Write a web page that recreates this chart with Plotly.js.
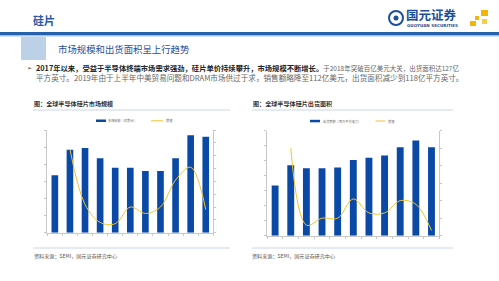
<!DOCTYPE html>
<html>
<head>
<meta charset="utf-8">
<script src="https://cdn.plot.ly/plotly-3.0.1.min.js"></script>
<style>html,body{margin:0;padding:0;background:#fff;}#chart{width:499px;height:281px;}</style>
</head>
<body>
<div id="chart"></div>
<script>
// ---- data ----
var years = ['2009','2010','2011','2012','2013','2014','2015','2016','2017','2018','2019'];
var marketSize = [67, 97, 99, 87, 76, 76, 72, 72, 87, 114, 112];          // 亿美元
var marketGrowth = [null, 45, 2, -12, -13, 0, -5, 0, 21, 31, -2];          // %
var shipArea = [67, 94, 90, 90, 91, 101, 104, 107, 118, 127, 118];
var shipGrowth = [null, 40, -4, 0, 0, 11, 3, 3, 10, 8, -7];                // %

var headerTitle = '硅片';
var slideTitle = '市场规模和出货面积呈上行趋势';
var bulletBold = '2017年以来，受益于半导体终端市场需求强劲，硅片单价持续攀升，市场规模不断增长。';
var bulletRest1 = '于2018年突破百亿美元大关，出货面积达127亿';
var bulletLine2 = '平方英寸。2019年由于上半年中美贸易问题和DRAM市场供过于求，销售额略降至112亿美元，出货面积减少到118亿平方英寸。';
var leftTitle = '图：全球半导体硅片市场规模';
var rightTitle = '图：全球半导体硅片出货面积';
var leftBarName = '市场规模（亿美元）';
var rightBarName = '出货面积（百万平方英寸）';
var lineName = '增速';
var sourceText = '资料来源：SEMI，国元证券研究中心';

// ---- layout helpers ----
var W = 499, H = 281;
function px(x){ return x / W; }
function py(y){ return 1 - y / H; }
var CJK = '"Noto Sans CJK SC", "DejaVu Sans", sans-serif';
var BAR = '#0b49a6', LINE = '#f1c232', AX = '#c8c8c8';

var traces = [
  {type:'bar', x:years, y:marketSize, name:leftBarName, xaxis:'x', yaxis:'y',
   marker:{color:BAR}, showlegend:false},
  {type:'scatter', mode:'lines', x:years, y:marketGrowth, name:lineName, xaxis:'x', yaxis:'y2',
   line:{color:LINE, width:1, shape:'spline', smoothing:1}, showlegend:false},
  {type:'bar', x:years, y:shipArea, name:rightBarName, xaxis:'x2', yaxis:'y3',
   marker:{color:BAR}, showlegend:false},
  {type:'scatter', mode:'lines', x:years, y:shipGrowth, name:lineName, xaxis:'x2', yaxis:'y4',
   line:{color:LINE, width:1, shape:'spline', smoothing:1}, showlegend:false}
];

function xax(d, anchor){
  return {domain:d, anchor:anchor, type:'category', showline:true, linecolor:AX, linewidth:1,
    ticks:'outside', ticklen:2, tickcolor:AX, tickson:'boundaries', showticklabels:false,
    showgrid:false, zeroline:false, fixedrange:true};
}
function yax(o){
  var a = {showline:true, linecolor:AX, linewidth:1, ticks:'outside', ticklen:2, tickcolor:AX,
    showticklabels:false, showgrid:false, zeroline:false, fixedrange:true};
  for (var k in o) a[k] = o[k];
  return a;
}

var shapes = [
  // header band
  {type:'rect', xref:'paper', yref:'paper', x0:0, x1:1, y0:py(35), y1:py(32), fillcolor:'#2561ad', line:{width:0}},
  {type:'rect', xref:'paper', yref:'paper', x0:0, x1:1, y0:py(36.5), y1:py(35), fillcolor:'#9cc0e6', line:{width:0}},
  // title square
  {type:'rect', xref:'paper', yref:'paper', x0:px(21), x1:px(46), y0:py(60), y1:py(37), fillcolor:'#bcd0e8', line:{width:0}},
  // logo circle
  {type:'circle', xref:'paper', yref:'paper', x0:px(389), x1:px(403), y0:py(25), y1:py(11), fillcolor:'rgba(0,0,0,0)', line:{color:'#1d4f9c', width:2}},
  {type:'circle', xref:'paper', yref:'paper', x0:px(393.5), x1:px(398.5), y0:py(20.5), y1:py(15.5), fillcolor:'#1d4f9c', line:{width:0}},
  // logo squares
  {type:'rect', xref:'paper', yref:'paper', x0:px(481), x1:px(488), y0:py(16), y1:py(10), fillcolor:'#f2b705', line:{width:0}},
  {type:'rect', xref:'paper', yref:'paper', x0:px(475), x1:px(479), y0:py(20), y1:py(16), fillcolor:'#f2b705', line:{width:0}},
  {type:'rect', xref:'paper', yref:'paper', x0:px(470), x1:px(476), y0:py(26), y1:py(21), fillcolor:'#f2b705', line:{width:0}},
  {type:'rect', xref:'paper', yref:'paper', x0:px(482), x1:px(487), y0:py(24), y1:py(19), fillcolor:'#f6cf4a', line:{width:0}},
  // separators
  {type:'line', xref:'paper', yref:'paper', x0:px(33), x1:px(230), y0:py(110), y1:py(110), line:{color:'#c9d6e8', width:1}},
  {type:'line', xref:'paper', yref:'paper', x0:px(252), x1:px(453), y0:py(110), y1:py(110), line:{color:'#c9d6e8', width:1}},
  {type:'line', xref:'paper', yref:'paper', x0:px(33), x1:px(230), y0:py(248), y1:py(248), line:{color:'#c9d6e8', width:1}},
  {type:'line', xref:'paper', yref:'paper', x0:px(252), x1:px(453), y0:py(248), y1:py(248), line:{color:'#c9d6e8', width:1}},
  // legend swatches
  {type:'rect', xref:'paper', yref:'paper', x0:px(96), x1:px(106), y0:py(122), y1:py(119.5), fillcolor:BAR, line:{width:0}},
  {type:'line', xref:'paper', yref:'paper', x0:px(151), x1:px(163), y0:py(120.8), y1:py(120.8), line:{color:LINE, width:1}},
  {type:'rect', xref:'paper', yref:'paper', x0:px(310), x1:px(320), y0:py(122.3), y1:py(119.8), fillcolor:BAR, line:{width:0}},
  {type:'line', xref:'paper', yref:'paper', x0:px(375.5), x1:px(385.5), y0:py(121), y1:py(121), line:{color:LINE, width:1}}
];

function ann(x, y, text, size, color, extra){
  var a = {xref:'paper', yref:'paper', x:px(x), y:py(y), xanchor:'left', yanchor:'middle',
    text:text, showarrow:false, borderpad:0, font:{family:CJK, size:size, color:color}};
  if (extra) for (var k in extra) a[k] = extra[k];
  return a;
}

var annotations = [
  ann(32, 20, '<b>' + headerTitle + '</b>', 11, '#2a5aa8'),
  ann(405, 14.2, '<b>国元证券</b>', 12.5, '#1d4f9c'),
  ann(406, 25.6, '<b>GUOYUAN SECURITIES</b>', 4.1, '#1d4f9c', {font:{family:'"DejaVu Sans", sans-serif', size:4.1, color:'#1d4f9c'}}),
  ann(57, 49, slideTitle, 9.4, '#1f4e9a'),
  ann(26, 67.5, '➢', 6, '#333', {font:{family:'"DejaVu Sans", sans-serif', size:6, color:'#333'}}),
  ann(35, 67.5, '<b>' + bulletBold + '</b><span style="color:#666;font-size:6.5px">' + bulletRest1 + '</span>', 7.3, '#222'),
  ann(35, 77.5, bulletLine2, 7.6, '#666'),
  ann(33, 103.5, '<b>' + leftTitle + '</b>', 6.1, '#333'),
  ann(252, 103.5, '<b>' + rightTitle + '</b>', 6.1, '#333'),
  ann(107, 120.8, leftBarName, 3.2, '#666'),
  ann(164.5, 120.8, lineName, 3.2, '#666'),
  ann(321.5, 121, rightBarName, 3.2, '#666'),
  ann(387, 121, lineName, 3.2, '#666'),
  ann(33, 256, sourceText, 5.1, '#555'),
  ann(251, 256, sourceText, 5.1, '#555')
];

var layout = {
  width:W, height:H, margin:{l:0, r:0, t:0, b:0}, paper_bgcolor:'#fff', plot_bgcolor:'rgba(0,0,0,0)',
  showlegend:false, bargap:0.56,
  font:{family:CJK},
  xaxis: xax([px(47.3), px(213.3)], 'y'),
  yaxis: yax({domain:[py(232.7), py(130)], anchor:'x', range:[0,120], dtick:20}),
  yaxis2: yax({overlaying:'y', side:'right', anchor:'x', range:[-20,60], dtick:10}),
  xaxis2: xax([px(267.3), px(439.3)], 'y3'),
  yaxis3: yax({domain:[py(235.7), py(130.7)], anchor:'x2', range:[0,140], dtick:20}),
  yaxis4: yax({overlaying:'y3', side:'right', anchor:'x2', range:[-10,50], dtick:10}),
  shapes:shapes, annotations:annotations
};

Plotly.newPlot('chart', traces, layout, {staticPlot:true, displayModeBar:false});
</script>
</body>
</html>
